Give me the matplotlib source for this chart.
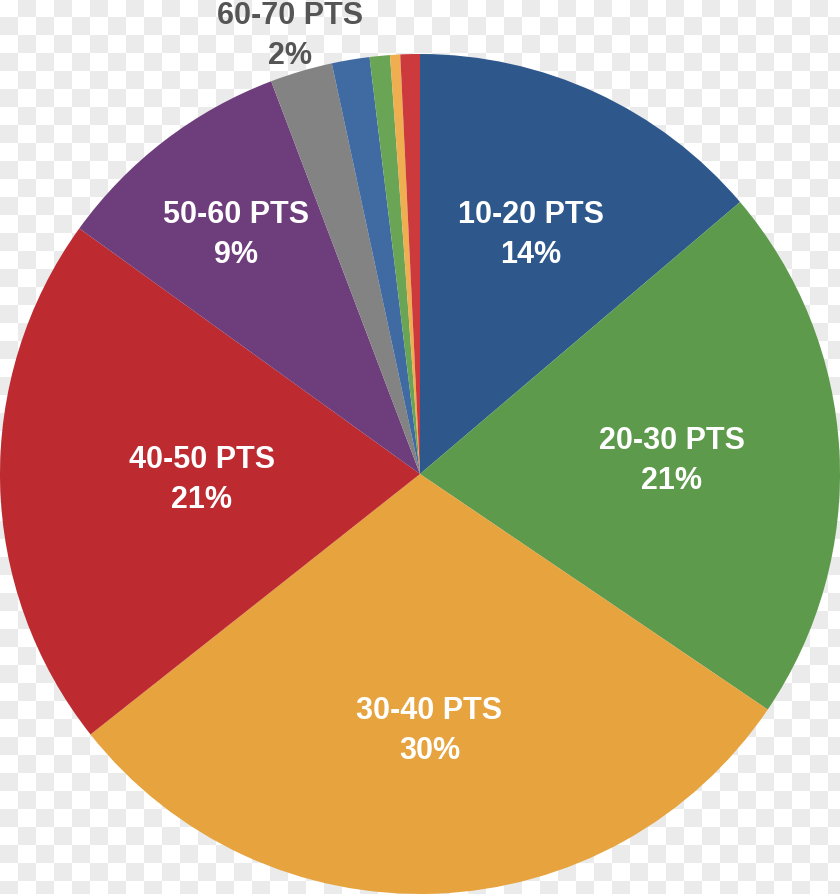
import numpy as np
import matplotlib
matplotlib.use('Agg')
import matplotlib.pyplot as plt

# Slice data, clockwise from 12 o'clock
labels = ['10-20 PTS', '20-30 PTS', '30-40 PTS', '40-50 PTS', '50-60 PTS',
          '60-70 PTS', '70-80 PTS', '80-90 PTS', '90-100 PTS', '100+ PTS']
shares = [13.8, 20.7, 29.9, 20.6, 9.3, 2.4, 1.45, 0.78, 0.39, 0.75]
pct_text = ['14%', '21%', '30%', '21%', '9%', '2%', '', '', '', '']
colors = ['#2e588c', '#5e9a4c', '#e6a33e', '#bd2b31', '#6e3d7b',
          '#838383', '#3f6aa2', '#6aa556', '#efae4f', '#cc3a3d']
# how far out each label sits (fraction of radius); 0 = no label
label_r = [0.63, 0.60, 0.61, 0.52, 0.72, 1.09, 0, 0, 0, 0]

plt.rcParams['font.family'] = ['Liberation Sans', 'DejaVu Sans']

fig = plt.figure(figsize=(8.4, 8.95), dpi=100)

# transparent-style checkerboard backdrop
bg = fig.add_axes([0, 0, 1, 1])
sq = 18
ny, nx = int(np.ceil(895 / sq)), int(np.ceil(840 / sq))
checker = (np.add.outer(np.arange(ny), np.arange(nx)) % 2).astype(float)
bg.imshow(checker, cmap=matplotlib.colors.ListedColormap(['#ffffff', '#ebebeb']),
          extent=[0, nx * sq, ny * sq, 0], interpolation='nearest')
bg.set_xlim(0, 840)
bg.set_ylim(895, 0)
bg.axis('off')

ax = fig.add_axes([0, 0, 1, 1])
ax.patch.set_alpha(0)
wedges, _ = ax.pie(shares, colors=colors, startangle=90, counterclock=False,
                   radius=1.0, wedgeprops=dict(linewidth=0))
ax.set_xlim(-1, 1)
ax.set_ylim(-1, 895 / 420 - 1)
ax.set_aspect('equal')
ax.axis('off')

for w, lab, pct, r in zip(wedges, labels, pct_text, label_r):
    if r == 0:
        continue
    mid = np.deg2rad((w.theta1 + w.theta2) / 2)
    x, y = r * np.cos(mid), r * np.sin(mid)
    col = 'white' if r < 1 else '#555555'
    ax.text(x, y, lab + '\n' + pct, ha='center', va='center', color=col,
            fontsize=22, fontweight='bold', linespacing=1.45)

fig.savefig('out.png', dpi=100)
